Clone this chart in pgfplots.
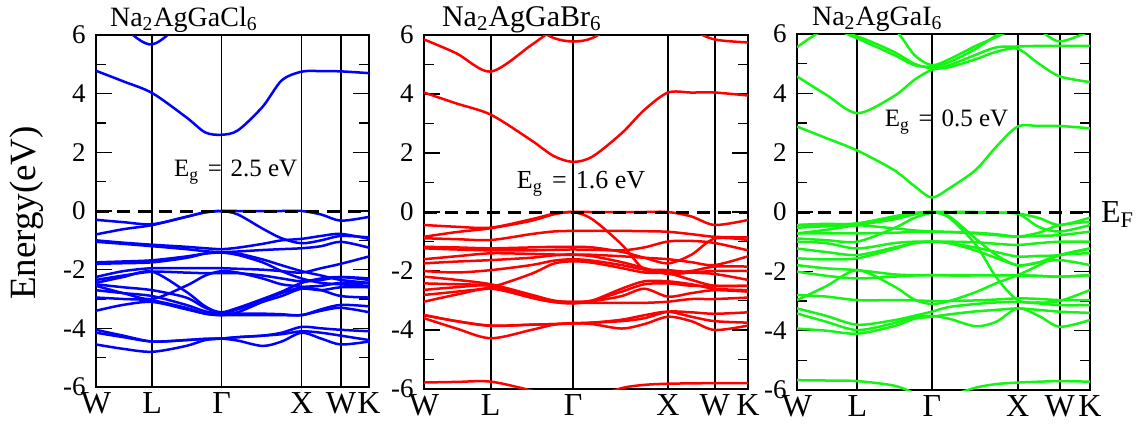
\documentclass[border=0pt]{standalone}
\usepackage{fontspec}
\setmainfont{Liberation Serif}
\newfontfamily\tnr{Liberation Serif}
\usepackage{pgfplots}
\pgfplotsset{compat=1.18}
\definecolor{bandblue}{RGB}{0,0,255}
\definecolor{bandred}{RGB}{255,0,0}
\definecolor{bandgreen}{RGB}{20,245,20}
\newcommand{\eg}[1]{E\textsubscript{g}\hspace{0.35em}=\hspace{0.35em}#1 eV}
\pgfplotsset{
  bandaxis/.style={
    scale only axis, anchor=south west,
    xmin=0, xmax=100, ymin=-6, ymax=6,
    clip mode=individual,
    xtick={0,20.6,46,75.3,89.7,100},
    xticklabels={W,L,Γ,X,W,K},
    ytick={-6,-4,-2,0,2,4,6},
    minor ytick={-5,-3,-1,1,3,5},
    xmajorgrids=true,
    major grid style={black, line width=0.9pt},
    xtick style={draw=none},
    ytick style={black, line width=0.8pt},
    tick align=inside,
    ytick pos=both,
    yticklabel pos=left,
    major tick length=8pt, minor tick length=5pt,
    axis line style={black, line width=1pt},
    /pgf/number format/assume math mode=true,
    yticklabel style={font=\tnr\fontsize{13.5}{14}\selectfont, inner sep=0pt, xshift=-5pt},
    xticklabel style={font=\tnr\fontsize{16}{17}\selectfont, inner sep=0pt, yshift=-2.5pt},
  },
  efline/.style={black, line width=1.5pt, dash pattern=on 6.5pt off 4pt},
}
\begin{document}
\begin{tikzpicture}
\path[use as bounding box] (0,0) rectangle (570.5pt,212.5pt);
\node[rotate=90, font=\tnr\fontsize{18.5}{18.5}\selectfont] at (13.5pt,106pt) {Energy(eV)};
% ---------------- Na2AgGaCl6 ----------------
\begin{axis}[bandaxis, at={(48pt,19pt)}, width=136.5pt, height=176pt,
  B/.style={bandblue, smooth, tension=0.5, line width=1.25pt}]
\addplot[B] coordinates {(0,4.78)(10,4.42)(20.6,4.02)(33,3.2)(40,2.68)(46,2.6)(52,2.75)(61,3.55)(68,4.45)(75.3,4.75)(82.5,4.77)(89.7,4.76)(100,4.7)};
\addplot[B] coordinates {(0,7.5)(10,6.3)(20.6,5.68)(33,6.6)(40,7.5)};
\addplot[B] coordinates {(0,-0.3)(10,-0.38)(20.6,-0.45)(33,-0.2)(40,-0.04)(46,0)(52,0)(61,0)(68,0)(75.3,0)(82.5,-0.12)(89.7,-0.33)(100,-0.2)};
\addplot[B] coordinates {(0,-0.8)(10,-0.62)(20.6,-0.48)(33,-0.2)(40,-0.05)(46,0)(52,-0.12)(61,-0.6)(68,-0.93)(75.3,-1.1)(82.5,-1.0)(89.7,-0.85)(100,-0.9)};
\addplot[B] coordinates {(0,-1.0)(10,-1.08)(20.6,-1.15)(33,-1.22)(40,-1.27)(46,-1.3)(52,-1.25)(61,-1.12)(68,-1.0)(75.3,-0.95)(82.5,-0.85)(89.7,-0.78)(100,-0.95)};
\addplot[B] coordinates {(0,-1.05)(10,-1.12)(20.6,-1.2)(33,-1.3)(40,-1.37)(46,-1.4)(52,-1.38)(61,-1.33)(68,-1.3)(75.3,-1.27)(82.5,-1.2)(89.7,-1.05)(100,-1.25)};
\addplot[B] coordinates {(0,-1.75)(10,-1.72)(20.6,-1.68)(33,-1.55)(40,-1.45)(46,-1.42)(52,-1.5)(61,-1.75)(68,-2.05)(75.3,-2.3)(82.5,-2.45)(89.7,-2.5)(100,-2.55)};
\addplot[B] coordinates {(0,-2.25)(10,-2.05)(20.6,-1.95)(33,-1.95)(40,-1.95)(46,-1.95)(52,-1.97)(61,-2.0)(68,-2.05)(75.3,-2.1)(82.5,-1.95)(89.7,-1.8)(100,-1.55)};
\addplot[B] coordinates {(0,-2.35)(10,-2.2)(20.6,-2.07)(33,-2.1)(40,-2.12)(46,-2.12)(52,-2.12)(61,-2.2)(68,-2.3)(75.3,-2.4)(82.5,-2.35)(89.7,-2.25)(100,-2.3)};
\addplot[B] coordinates {(0,-2.45)(10,-2.25)(20.6,-2.07)(33,-2.75)(40,-3.25)(46,-3.48)(52,-3.35)(61,-3.05)(68,-2.8)(75.3,-2.6)(82.5,-2.55)(89.7,-2.45)(100,-2.45)};
\addplot[B] coordinates {(0,-2.55)(10,-2.8)(20.6,-3.0)(33,-2.55)(40,-2.2)(46,-2.05)(52,-2.1)(61,-2.3)(68,-2.5)(75.3,-2.58)(82.5,-2.7)(89.7,-2.9)(100,-2.95)};
\addplot[B] coordinates {(0,-2.7)(10,-2.8)(20.6,-2.9)(33,-3.2)(40,-3.42)(46,-3.5)(52,-3.5)(61,-3.5)(68,-3.52)(75.3,-3.55)(82.5,-3.35)(89.7,-3.2)(100,-3.25)};
\addplot[B] coordinates {(0,-2.95)(10,-3.0)(20.6,-3.05)(33,-3.3)(40,-3.5)(46,-3.55)(52,-3.45)(61,-3.1)(68,-2.9)(75.3,-2.65)(82.5,-2.7)(89.7,-2.6)(100,-2.6)};
\addplot[B] coordinates {(0,-3.4)(10,-3.2)(20.6,-3.1)(33,-3.35)(40,-3.5)(46,-3.55)(52,-3.55)(61,-3.55)(68,-3.55)(75.3,-3.55)(82.5,-3.4)(89.7,-3.3)(100,-3.45)};
\addplot[B] coordinates {(0,-4.05)(10,-4.25)(20.6,-4.45)(33,-4.4)(40,-4.36)(46,-4.35)(52,-4.42)(61,-4.6)(68,-4.45)(75.3,-4.15)(82.5,-4.35)(89.7,-4.55)(100,-4.45)};
\addplot[B] coordinates {(0,-4.15)(10,-4.3)(20.6,-4.45)(33,-4.4)(40,-4.36)(46,-4.35)(52,-4.3)(61,-4.25)(68,-4.15)(75.3,-3.95)(82.5,-4.0)(89.7,-4.05)(100,-4.1)};
\addplot[B] coordinates {(0,-4.55)(10,-4.7)(20.6,-4.8)(33,-4.6)(40,-4.4)(46,-4.35)(52,-4.3)(61,-4.25)(68,-4.2)(75.3,-4.1)(82.5,-4.15)(89.7,-4.25)(100,-4.4)};
\addplot[B] coordinates {(0,-2.5)(10,-2.6)(20.6,-2.7)(33,-2.95)(40,-3.3)(46,-3.45)(52,-3.3)(61,-3.0)(68,-2.75)(75.3,-2.45)(82.5,-2.3)(89.7,-2.25)(100,-2.35)};
\addplot[B] coordinates {(0,-1.8)(10,-1.78)(20.6,-1.75)(33,-1.6)(40,-1.45)(46,-1.4)(52,-1.45)(61,-1.65)(68,-1.85)(75.3,-2.05)(82.5,-2.2)(89.7,-2.35)(100,-2.45)};
\addplot[efline] coordinates {(0,0)(100,0)};
\node[anchor=base west, font=\tnr\fontsize{14}{14}\selectfont, xshift=3.5pt, yshift=4.5pt] at (rel axis cs:0,1) {Na\textsubscript{2}AgGaCl\textsubscript{6}};
\node[anchor=base west, font=\tnr\fontsize{12.5}{13}\selectfont] at (axis cs:26,1.16) {\eg{2.5}};
\end{axis}
% ---------------- Na2AgGaBr6 ----------------
\begin{axis}[bandaxis, at={(212pt,18pt)}, width=162pt, height=177pt,
  B/.style={bandred, smooth, tension=0.5, line width=1.25pt}]
\addplot[B] coordinates {(0,4.05)(10,3.68)(20.6,3.3)(33,2.44)(40,1.9)(46,1.7)(52,1.88)(61,2.67)(68,3.46)(75.3,4.05)(82.5,4.05)(89.7,4.05)(100,3.95)};
\addplot[B] coordinates {(0,5.85)(10,5.38)(20.6,4.76)(33,5.65)(40,6.2)(46,6.6)};
\addplot[B] coordinates {(33,6.33)(40,5.9)(46,5.78)(52,5.9)(61,6.5)};
\addplot[B] coordinates {(68,7.5)(75.3,6.8)(82.5,6.2)(89.7,5.85)(100,5.75)};
\addplot[B] coordinates {(0,-5.78)(10,-5.76)(20.6,-5.75)(33,-6.05)(40,-6.3)(46,-6.4)(52,-6.3)(61,-5.97)(68,-5.86)(75.3,-5.82)(82.5,-5.81)(89.7,-5.8)(100,-5.8)};
\addplot[B] coordinates {(0,-0.44)(10,-0.5)(20.6,-0.53)(33,-0.25)(40,-0.06)(46,0)(52,0)(61,0)(68,0)(75.3,0)(82.5,-0.15)(89.7,-0.44)(100,-0.27)};
\addplot[B] coordinates {(0,-0.84)(10,-0.68)(20.6,-0.55)(33,-0.3)(40,-0.08)(46,0)(52,-0.25)(61,-1.1)(68,-1.95)(75.3,-2.05)(82.5,-2.0)(89.7,-1.85)(100,-1.85)};
\addplot[B] coordinates {(0,-0.89)(10,-0.92)(20.6,-0.95)(33,-0.75)(40,-0.66)(46,-0.64)(52,-0.64)(61,-0.64)(68,-0.65)(75.3,-0.67)(82.5,-0.75)(89.7,-0.84)(100,-0.86)};
\addplot[B] coordinates {(0,-1.18)(10,-1.2)(20.6,-1.23)(33,-1.2)(40,-1.18)(46,-1.18)(52,-1.2)(61,-1.35)(68,-1.55)(75.3,-1.74)(82.5,-1.45)(89.7,-0.9)(100,-0.95)};
\addplot[B] coordinates {(0,-1.23)(10,-1.27)(20.6,-1.3)(33,-1.3)(40,-1.28)(46,-1.27)(52,-1.28)(61,-1.3)(68,-1.2)(75.3,-1.0)(82.5,-0.98)(89.7,-1.05)(100,-1.3)};
\addplot[B] coordinates {(0,-1.6)(10,-1.5)(20.6,-1.4)(33,-1.42)(40,-1.44)(46,-1.44)(52,-1.45)(61,-1.5)(68,-1.55)(75.3,-1.6)(82.5,-1.7)(89.7,-1.8)(100,-1.5)};
\addplot[B] coordinates {(0,-1.74)(10,-1.68)(20.6,-1.63)(33,-1.55)(40,-1.47)(46,-1.45)(52,-1.5)(61,-1.7)(68,-1.9)(75.3,-2.1)(82.5,-2.05)(89.7,-2.0)(100,-2.0)};
\addplot[B] coordinates {(0,-2.0)(10,-2.05)(20.6,-1.97)(33,-1.8)(40,-1.65)(46,-1.6)(52,-1.65)(61,-1.8)(68,-1.95)(75.3,-1.97)(82.5,-2.05)(89.7,-2.1)(100,-2.3)};
\addplot[B] coordinates {(0,-2.19)(10,-2.3)(20.6,-2.45)(33,-2.8)(40,-3.0)(46,-3.05)(52,-3.0)(61,-2.7)(68,-2.45)(75.3,-2.42)(82.5,-2.5)(89.7,-2.5)(100,-2.5)};
\addplot[B] coordinates {(0,-2.42)(10,-2.45)(20.6,-2.5)(33,-2.85)(40,-3.02)(46,-3.05)(52,-3.02)(61,-2.85)(68,-2.6)(75.3,-2.87)(82.5,-2.75)(89.7,-2.65)(100,-2.7)};
\addplot[B] coordinates {(0,-2.64)(10,-2.55)(20.6,-2.5)(33,-2.9)(40,-3.05)(46,-3.08)(52,-3.08)(61,-3.08)(68,-3.08)(75.3,-3.04)(82.5,-2.95)(89.7,-2.95)(100,-2.9)};
\addplot[B] coordinates {(0,-2.81)(10,-2.7)(20.6,-2.55)(33,-2.1)(40,-1.75)(46,-1.67)(52,-1.72)(61,-1.9)(68,-2.05)(75.3,-2.08)(82.5,-2.3)(89.7,-2.5)(100,-2.5)};
\addplot[B] coordinates {(0,-3.04)(10,-2.8)(20.6,-2.6)(33,-2.9)(40,-3.05)(46,-3.1)(52,-3.0)(61,-2.6)(68,-2.35)(75.3,-2.35)(82.5,-2.45)(89.7,-2.6)(100,-2.65)};
\addplot[B] coordinates {(0,-3.49)(10,-3.7)(20.6,-3.85)(33,-3.82)(40,-3.8)(46,-3.77)(52,-3.75)(61,-3.7)(68,-3.6)(75.3,-3.38)(82.5,-3.4)(89.7,-3.45)(100,-3.4)};
\addplot[B] coordinates {(0,-3.6)(10,-3.95)(20.6,-4.28)(33,-4.0)(40,-3.82)(46,-3.77)(52,-3.8)(61,-3.95)(68,-3.8)(75.3,-3.55)(82.5,-3.7)(89.7,-4.0)(100,-3.85)};
\addplot[B] coordinates {(0,-3.5)(10,-3.7)(20.6,-3.86)(33,-3.82)(40,-3.8)(46,-3.78)(52,-3.75)(61,-3.65)(68,-3.5)(75.3,-3.38)(82.5,-3.55)(89.7,-3.7)(100,-3.75)};
\addplot[efline] coordinates {(0,0)(100,0)};
\node[anchor=base west, font=\tnr\fontsize{15}{15}\selectfont, xshift=5.5pt, yshift=4.5pt] at (rel axis cs:0,1) {Na\textsubscript{2}AgGaBr\textsubscript{6}};
\node[anchor=base west, font=\tnr\fontsize{13}{13}\selectfont] at (axis cs:26.5,0.8) {\eg{1.6}};
\end{axis}
% ---------------- Na2AgGaI6 ----------------
\begin{axis}[bandaxis, at={(398.5pt,17.5pt)}, width=146.5pt, height=178pt,
  B/.style={bandgreen, smooth, tension=0.5, line width=1.25pt}]
\addplot[B] coordinates {(0,2.88)(10,2.49)(20.6,2.07)(33,1.42)(40,0.88)(46,0.49)(52,0.8)(61,1.42)(68,2.2)(75.3,2.88)(82.5,2.9)(89.7,2.9)(100,2.82)};
\addplot[B] coordinates {(0,4.57)(10,3.95)(20.6,3.33)(33,3.9)(40,4.45)(46,4.79)(52,4.88)(61,5.15)(68,5.4)(75.3,5.5)(82.5,5.0)(89.7,4.57)(100,4.38)};
\addplot[B] coordinates {(0,5.55)(10,6.15)(20.6,5.92)(33,5.4)(40,5.0)(46,4.85)(52,4.95)(61,5.3)(68,5.55)(75.3,5.58)(82.5,5.6)(89.7,5.6)(100,5.6)};
\addplot[B] coordinates {(0,6.8)(10,6.3)(20.6,5.85)(33,5.3)(40,4.95)(46,4.9)(52,5.05)(61,5.5)(68,5.95)(75.3,6.3)};
\addplot[B] coordinates {(20.6,7)(33,6.2)(40,5.3)(46,4.95)(52,5.15)(61,5.6)(68,5.9)(75.3,6.3)(82.5,7)};
\addplot[B] coordinates {(68,7.5)(75.3,6.6)(82.5,6.15)(89.7,5.75)(100,6.1)};
\addplot[B] coordinates {(0,-5.67)(10,-5.68)(20.6,-5.7)(33,-5.85)(40,-6.1)(46,-6.3)(52,-6.2)(61,-5.92)(68,-5.8)(75.3,-5.75)(82.5,-5.72)(89.7,-5.7)(100,-5.72)};
\addplot[B] coordinates {(0,-0.44)(10,-0.42)(20.6,-0.38)(33,-0.15)(40,-0.03)(46,0)(52,0)(61,0)(68,-0.02)(75.3,-0.05)(82.5,-0.2)(89.7,-0.44)(100,-0.19)};
\addplot[B] coordinates {(0,-0.53)(10,-0.48)(20.6,-0.44)(33,-0.2)(40,-0.05)(46,0)(52,-0.15)(61,-0.9)(68,-1.45)(75.3,-1.8)(82.5,-1.7)(89.7,-1.62)(100,-1.79)};
\addplot[B] coordinates {(0,-0.72)(10,-0.6)(20.6,-0.44)(33,-0.25)(40,-0.08)(46,0)(52,-0.2)(61,-1.1)(68,-2.2)(75.3,-2.97)(82.5,-3.05)(89.7,-3.0)(100,-2.63)};
\addplot[B] coordinates {(0,-0.89)(10,-0.95)(20.6,-1.0)(33,-0.55)(40,-0.2)(46,-0.03)(52,-0.03)(61,-0.03)(68,-0.03)(75.3,-0.05)(82.5,-0.5)(89.7,-0.66)(100,-0.44)};
\addplot[B] coordinates {(0,-0.72)(10,-0.72)(20.6,-0.72)(33,-0.7)(40,-0.67)(46,-0.66)(52,-0.67)(61,-0.7)(68,-0.75)(75.3,-0.83)(82.5,-0.8)(89.7,-0.78)(100,-0.66)};
\addplot[B] coordinates {(0,-1.0)(10,-1.05)(20.6,-1.23)(33,-1.05)(40,-1.0)(46,-1.0)(52,-1.0)(61,-1.02)(68,-1.07)(75.3,-1.11)(82.5,-1.05)(89.7,-1.0)(100,-1.0)};
\addplot[B] coordinates {(0,-1.23)(10,-1.35)(20.6,-1.45)(33,-1.2)(40,-1.05)(46,-1.0)(52,-1.05)(61,-1.2)(68,-1.35)(75.3,-1.5)(82.5,-1.48)(89.7,-1.45)(100,-1.23)};
\addplot[B] coordinates {(0,-1.56)(10,-1.6)(20.6,-1.56)(33,-1.25)(40,-1.05)(46,-1.0)(52,-1.05)(61,-1.3)(68,-1.55)(75.3,-1.79)(82.5,-1.7)(89.7,-1.45)(100,-1.39)};
\addplot[B] coordinates {(0,-1.79)(10,-1.9)(20.6,-1.96)(33,-2.1)(40,-2.13)(46,-2.13)(52,-2.13)(61,-2.13)(68,-2.13)(75.3,-2.13)(82.5,-2.15)(89.7,-2.18)(100,-2.13)};
\addplot[B] coordinates {(0,-2.01)(10,-2.15)(20.6,-2.24)(33,-2.18)(40,-2.14)(46,-2.13)(52,-2.14)(61,-2.14)(68,-2.14)(75.3,-2.14)(82.5,-2.16)(89.7,-2.18)(100,-2.13)};
\addplot[B] coordinates {(0,-2.97)(10,-2.5)(20.6,-1.96)(33,-2.5)(40,-2.95)(46,-3.1)(52,-3.0)(61,-2.7)(68,-2.4)(75.3,-2.13)(82.5,-1.8)(89.7,-1.45)(100,-1.23)};
\addplot[B] coordinates {(0,-2.8)(10,-2.85)(20.6,-2.97)(33,-2.97)(40,-2.98)(46,-3.0)(52,-3.0)(61,-2.98)(68,-2.95)(75.3,-2.91)(82.5,-2.93)(89.7,-2.97)(100,-2.97)};
\addplot[B] coordinates {(0,-3.25)(10,-3.5)(20.6,-3.8)(33,-3.65)(40,-3.5)(46,-3.36)(52,-3.2)(61,-3.1)(68,-3.05)(75.3,-3.03)(82.5,-3.08)(89.7,-3.14)(100,-3.14)};
\addplot[B] coordinates {(0,-3.42)(10,-3.7)(20.6,-3.98)(33,-3.75)(40,-3.55)(46,-3.5)(52,-3.6)(61,-3.85)(68,-3.7)(75.3,-3.25)(82.5,-3.5)(89.7,-3.87)(100,-3.64)};
\addplot[B] coordinates {(0,-3.93)(10,-4.0)(20.6,-4.1)(33,-3.85)(40,-3.6)(46,-3.53)(52,-3.45)(61,-3.35)(68,-3.3)(75.3,-3.25)(82.5,-3.3)(89.7,-3.36)(100,-3.4)};
\addplot[B] coordinates {(0,-0.44)(10,-0.4)(20.6,-0.44)(33,-0.55)(40,-0.62)(46,-0.66)(52,-0.68)(61,-0.72)(68,-0.78)(75.3,-0.83)(82.5,-0.7)(89.7,-0.44)(100,-0.33)};
\addplot[efline] coordinates {(0,0)(100,0)};
\node[anchor=base west, font=\tnr\fontsize{14}{14}\selectfont, xshift=4pt, yshift=4.5pt] at (rel axis cs:0,1) {Na\textsubscript{2}AgGaI\textsubscript{6}};
\node[anchor=base west, font=\tnr\fontsize{12.5}{13}\selectfont] at (axis cs:27.6,2.87) {\eg{0.5}};
\node[anchor=base west, font=\tnr\fontsize{16}{16}\selectfont, xshift=2pt, yshift=-5pt] at (axis cs:100,0) {E\textsubscript{F}};
\end{axis}
\end{tikzpicture}
\end{document}
